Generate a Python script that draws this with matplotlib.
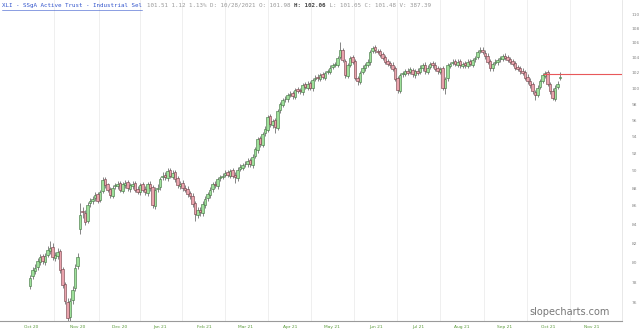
import numpy as np
import matplotlib.pyplot as plt
from matplotlib.ticker import FixedLocator, NullLocator

# daily candles (index = trading day)
opens = [77.6, 78.6, 79.1, 79.5, 80.0, 80.6, 80.0, 80.8, 81.2, 81.6,
         80.4, 80.6, 81.2, 79.3, 77.8, 76.0, 74.6, 76.2, 77.4, 79.6,
         83.5, 85.4, 85.2, 84.4, 86.3, 86.5, 86.9, 87.3, 86.7, 87.7,
         89.0, 88.4, 87.9, 87.1, 88.2, 88.2, 88.6, 87.7, 88.3, 88.7,
         87.9, 88.2, 88.6, 87.9, 87.5, 88.4, 87.9, 87.4, 88.5, 88.1,
         86.0, 87.9, 88.1, 89.2, 89.5, 89.1, 90.0, 89.3, 89.8, 89.1,
         88.2, 88.6, 88.0, 87.9, 87.4, 87.1, 86.3, 85.0, 85.6, 85.2,
         86.1, 86.9, 87.2, 87.9, 88.5, 88.2, 89.1, 89.3, 89.5, 89.8,
         89.4, 90.0, 89.5, 89.1, 90.2, 90.3, 90.7, 90.7, 91.2, 90.6,
         91.7, 92.4, 93.8, 93.0, 94.4, 94.8, 96.5, 95.4, 96.0, 95.0,
         97.2, 97.9, 98.6, 98.6, 99.2, 99.4, 98.9, 99.9, 99.8, 99.5,
         100.5, 100.1, 100.7, 100.0, 101.2, 101.5, 101.2, 101.8, 101.4, 102.1,
         102.1, 102.8, 103.1, 103.1, 104.1, 105.1, 103.6, 101.6, 103.1, 104.1,
         103.6, 101.3, 100.8, 102.1, 102.6, 103.1, 103.4, 104.9, 105.4, 104.9,
         104.9, 104.5, 104.1, 103.6, 103.3, 103.1, 102.6, 101.3, 99.7, 101.8,
         101.9, 102.3, 102.1, 102.4, 101.7, 102.3, 102.1, 102.6, 103.1, 102.1,
         102.8, 103.3, 103.1, 102.6, 102.1, 102.6, 100.0, 101.3, 102.9, 103.3,
         103.6, 103.1, 103.6, 102.9, 103.3, 102.9, 103.6, 103.1, 103.8, 104.1,
         104.9, 105.1, 104.7, 104.3, 103.6, 102.6, 103.3, 103.4, 103.8, 103.9,
         104.3, 104.1, 103.8, 103.6, 103.3, 102.8, 102.6, 102.3, 102.1, 101.5,
         101.0, 100.5, 99.5, 99.2, 100.2, 101.0, 101.6, 102.1, 100.5, 99.7,
         98.7, 100.2, 101.4]
highs = [78.7, 79.5, 79.8, 80.4, 80.9, 80.9, 81.0, 81.7, 82.2, 82.0,
         81.1, 81.5, 81.4, 79.5, 78.0, 76.4, 76.4, 77.6, 79.8, 81.0,
         86.3, 85.9, 85.5, 86.4, 86.9, 87.1, 87.5, 87.6, 87.8, 89.3,
         89.3, 88.6, 88.1, 88.3, 88.6, 88.8, 88.8, 88.7, 88.9, 88.9,
         88.6, 88.8, 88.8, 88.2, 88.6, 88.7, 88.2, 88.7, 88.8, 88.3,
         88.1, 88.4, 89.3, 89.8, 89.8, 90.3, 90.3, 90.0, 90.1, 89.4,
         88.8, 88.9, 88.3, 88.2, 87.7, 87.4, 86.5, 85.9, 85.9, 86.5,
         87.1, 87.6, 88.1, 88.7, 88.8, 89.3, 89.5, 89.7, 90.0, 90.1,
         90.2, 90.3, 89.8, 90.4, 90.7, 90.9, 91.1, 91.4, 91.5, 91.9,
         92.8, 94.0, 94.1, 94.6, 95.3, 96.7, 96.8, 96.2, 96.3, 97.4,
         98.3, 98.8, 99.0, 99.4, 99.6, 99.7, 100.1, 100.2, 100.1, 100.7,
         100.8, 100.9, 101.0, 101.4, 101.7, 101.8, 102.0, 102.1, 102.3, 102.5,
         103.0, 103.3, 103.5, 104.3, 106.1, 105.3, 103.8, 103.3, 104.3, 104.4,
         103.8, 101.6, 102.3, 103.0, 103.3, 103.8, 105.1, 105.6, 105.7, 105.2,
         105.2, 104.8, 104.4, 103.9, 103.6, 103.4, 102.9, 101.6, 102.0, 102.3,
         102.5, 102.6, 102.8, 102.7, 102.5, 102.6, 103.0, 103.3, 103.4, 103.0,
         103.5, 103.6, 103.4, 102.9, 102.8, 102.9, 101.5, 103.3, 103.5, 103.8,
         103.9, 103.8, 103.9, 103.5, 103.6, 103.8, 103.9, 104.0, 104.3, 105.1,
         105.4, 105.4, 105.0, 104.6, 103.9, 103.5, 103.8, 104.0, 104.3, 104.5,
         104.6, 104.4, 104.1, 103.9, 103.6, 103.1, 102.9, 102.6, 102.4, 101.8,
         101.3, 100.8, 99.8, 100.4, 101.2, 102.0, 102.3, 102.4, 100.8, 100.0,
         100.4, 100.9, 102.1]
lows = [77.3, 78.3, 78.8, 79.2, 79.7, 79.8, 79.7, 80.5, 80.9, 80.2,
        80.1, 80.3, 78.9, 77.4, 75.8, 74.1, 74.2, 75.8, 77.1, 79.3,
        83.0, 84.7, 83.9, 84.1, 85.9, 86.2, 86.6, 86.3, 86.4, 87.4,
        88.0, 87.5, 86.9, 86.9, 87.9, 87.9, 87.5, 87.4, 88.0, 87.7,
        87.6, 87.9, 87.5, 87.3, 87.2, 87.5, 87.2, 87.1, 87.7, 85.8,
        85.7, 87.6, 87.8, 88.9, 88.9, 88.8, 89.1, 89.0, 88.7, 88.0,
        87.9, 87.7, 87.5, 87.0, 86.8, 85.9, 84.4, 84.7, 84.9, 84.9,
        85.8, 86.6, 86.9, 87.6, 88.0, 87.9, 88.8, 89.0, 89.2, 89.2,
        89.1, 89.1, 88.6, 88.8, 89.9, 90.0, 90.4, 90.4, 90.4, 90.3,
        91.4, 92.1, 92.8, 92.7, 94.1, 94.5, 95.2, 95.1, 94.4, 94.8,
        96.9, 97.6, 98.3, 98.3, 98.9, 98.7, 98.6, 99.4, 99.3, 99.2,
        99.9, 99.8, 99.8, 99.7, 100.9, 101.0, 100.9, 101.2, 101.1, 101.8,
        101.8, 102.5, 102.8, 102.8, 103.8, 103.4, 101.4, 101.3, 102.8, 103.2,
        101.1, 100.4, 100.5, 101.8, 102.3, 102.8, 103.1, 104.6, 104.7, 104.5,
        104.1, 103.7, 103.2, 102.9, 102.7, 102.2, 100.9, 99.4, 99.4, 101.5,
        101.6, 101.7, 101.8, 101.5, 101.4, 101.7, 101.8, 102.3, 101.9, 101.8,
        102.5, 102.7, 102.2, 101.9, 101.8, 99.8, 99.3, 101.0, 102.6, 103.0,
        102.9, 102.8, 102.7, 102.6, 102.7, 102.6, 102.9, 102.8, 103.5, 103.8,
        104.6, 104.5, 103.9, 103.2, 102.3, 102.3, 103.0, 103.1, 103.5, 103.6,
        103.7, 103.4, 103.2, 102.9, 102.4, 102.2, 101.9, 101.7, 101.1, 100.6,
        100.1, 99.3, 98.5, 98.9, 99.9, 100.7, 101.3, 100.3, 99.3, 98.5,
        98.4, 99.9, 101.1]
closes = [78.4, 79.2, 79.4, 80.1, 80.5, 80.1, 80.7, 81.3, 81.5, 80.5,
          80.8, 81.1, 79.2, 77.7, 76.1, 74.5, 76.1, 77.2, 79.4, 80.5,
          85.0, 85.3, 84.3, 86.1, 86.6, 86.8, 87.2, 86.6, 87.5, 88.9,
          88.3, 87.8, 87.2, 88.0, 88.3, 88.5, 87.8, 88.4, 88.6, 88.0,
          88.3, 88.5, 87.8, 87.6, 88.3, 87.8, 87.5, 88.4, 88.0, 86.1,
          87.8, 88.0, 89.0, 89.4, 89.2, 89.9, 89.4, 89.7, 89.0, 88.3,
          88.5, 88.0, 87.8, 87.3, 87.1, 86.2, 85.1, 85.5, 85.3, 86.2,
          86.8, 87.3, 87.8, 88.4, 88.3, 89.0, 89.2, 89.4, 89.7, 89.5,
          89.9, 89.4, 89.2, 90.1, 90.4, 90.6, 90.8, 91.1, 90.7, 91.6,
          92.5, 93.7, 93.1, 94.3, 94.9, 96.4, 95.5, 95.9, 95.2, 97.1,
          98.0, 98.5, 98.7, 99.1, 99.3, 99.0, 99.8, 99.7, 99.6, 100.4,
          100.2, 100.6, 100.1, 101.1, 101.4, 101.3, 101.7, 101.5, 102.0, 102.2,
          102.7, 103.0, 103.2, 104.0, 105.0, 103.7, 101.7, 103.0, 104.0, 103.5,
          101.4, 100.9, 102.0, 102.7, 103.0, 103.5, 104.8, 105.3, 105.0, 104.8,
          104.4, 104.0, 103.5, 103.2, 103.0, 102.5, 101.2, 99.8, 101.7, 102.0,
          102.2, 102.0, 102.5, 101.8, 102.2, 102.0, 102.7, 103.0, 102.2, 102.7,
          103.2, 103.0, 102.5, 102.2, 102.5, 100.1, 101.2, 103.0, 103.2, 103.5,
          103.2, 103.5, 103.0, 103.2, 103.0, 103.5, 103.2, 103.7, 104.0, 104.8,
          105.0, 104.8, 104.2, 103.5, 102.7, 103.2, 103.5, 103.7, 104.0, 104.2,
          104.0, 103.7, 103.5, 103.2, 102.7, 102.5, 102.2, 102.0, 101.4, 100.9,
          100.4, 99.6, 99.1, 100.1, 100.9, 101.7, 102.0, 100.6, 99.6, 98.8,
          100.1, 100.6, 101.5]

month_labels = ['Oct 20', 'Nov 20', 'Dec 20', 'Jan 21', 'Feb 21', 'Mar 21', 'Apr 21',
                'May 21', 'Jun 21', 'Jul 21', 'Aug 21', 'Sep 21', 'Oct 21', 'Nov 21']
month_pos = [0.4, 19.2, 36, 52, 69.6, 86.4, 104, 120.8, 138.4, 155.2, 172.8, 190, 207.2, 224.8]
price_ticks = list(range(76, 111, 2))
level = 101.9     # drawn horizontal line
level_start = 205

title = 'XLI - SSgA Active Trust - Industrial Sel'
quote = '101.51 1.12 1.13% D: 10/28/2021 O: 101.98 '
quote_h = 'H: 102.06'
quote_rest = ' L: 101.05 C: 101.48 V: 387.39'

o = np.array(opens)
c = np.array(closes)
h = np.array(highs)
l = np.array(lows)
x = np.arange(len(o))
up = c >= o

fig = plt.figure(figsize=(6.4, 3.34), dpi=100)
ax = fig.add_axes([0, 13 / 334, 622 / 640, 321 / 334])
ax.set_yscale('log')
ax.set_ylim(74.2, 112.0)
ax.set_xlim(-12, 236.8)

# month separators
for a, b in zip(month_pos[:-1], month_pos[1:]):
    ax.axvline((a + b) / 2, color='#ececec', lw=0.6, zorder=0)

ax.vlines(x, l, h, color='#555555', lw=0.5, zorder=2)
body_lo = np.minimum(o, c)
body_h = np.maximum(np.abs(c - o), 0.08)
ax.bar(x[up], body_h[up], bottom=body_lo[up], width=0.85, color='#9ee09a',
       edgecolor='#3d6e3d', linewidth=0.4, zorder=3)
ax.bar(x[~up], body_h[~up], bottom=body_lo[~up], width=0.85, color='#eaa3ad',
       edgecolor='#6e3d44', linewidth=0.4, zorder=3)

ax.plot([level_start, 236.8], [level, level], color='#e8585a', lw=0.8,
        solid_capstyle='butt', zorder=4)

ax.yaxis.tick_right()
ax.yaxis.set_major_locator(FixedLocator(price_ticks))
ax.yaxis.set_minor_locator(NullLocator())
ax.set_yticklabels([str(t) for t in price_ticks])
ax.tick_params(axis='y', length=0, labelsize=3.2, labelcolor='#888888', pad=7)
ax.set_xticks(month_pos)
ax.set_xticklabels(month_labels)
ax.tick_params(axis='x', length=0, labelsize=3.2, labelcolor='#5a9a3a', pad=3)

for s in ['top', 'left']:
    ax.spines[s].set_visible(False)
ax.spines['right'].set_color('#e4e4e4')
ax.spines['right'].set_linewidth(0.6)
ax.spines['bottom'].set_color('#9a9a9a')
ax.spines['bottom'].set_linewidth(0.8)

t = ax.text(0.003, 0.992, title, transform=ax.transAxes, fontsize=4.2, color='#3355cc',
            family='DejaVu Sans Mono', va='top', ha='left')
fig.canvas.draw()
bb = t.get_window_extent()
ax.plot([bb.x0 / 622, bb.x1 / 622], [0.968, 0.968], transform=ax.transAxes,
        color='#3355cc', lw=0.4)
t2 = ax.annotate(quote, xy=(1, 0), xycoords=t, xytext=(4, 0), textcoords='offset points',
                 fontsize=4.2, color='#999999', family='DejaVu Sans Mono', va='bottom')
t3 = ax.annotate(quote_h, xy=(1, 0), xycoords=t2, fontsize=4.2, color='#444444',
                 family='DejaVu Sans Mono', va='bottom', weight='bold')
ax.annotate(quote_rest, xy=(1, 0), xycoords=t3, fontsize=4.2, color='#999999',
            family='DejaVu Sans Mono', va='bottom')

ax.text(0.98, 0.012, 'slopecharts.com', transform=ax.transAxes, fontsize=7,
        color='#777777', ha='right', va='bottom')

fig.savefig('out.png', dpi=100)
